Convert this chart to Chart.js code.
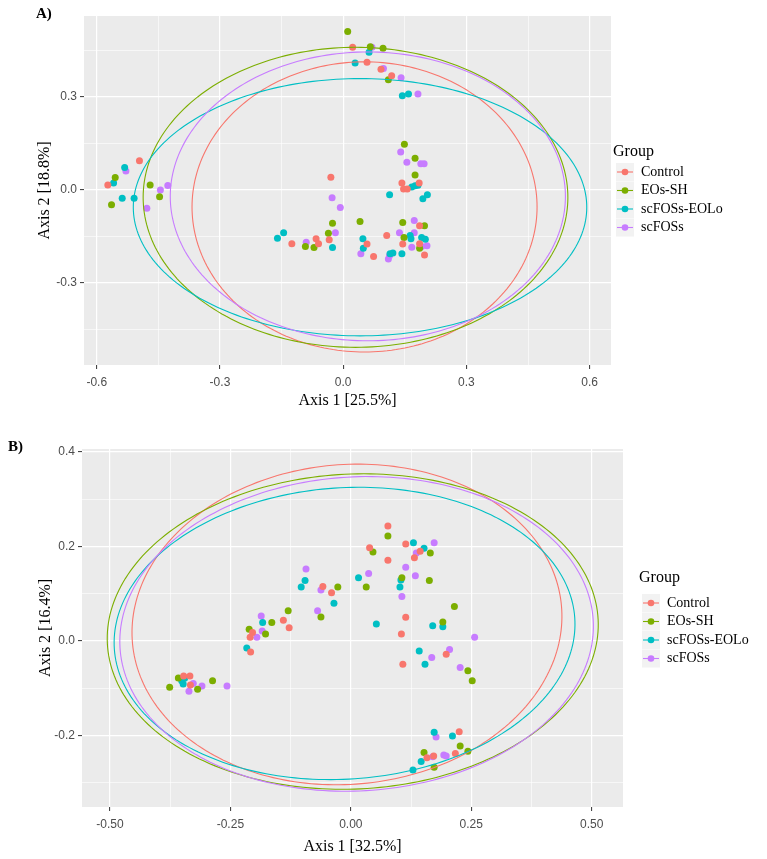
<!DOCTYPE html>
<html>
<head>
<meta charset="utf-8">
<script src="https://cdn.jsdelivr.net/npm/chart.js@4.4.1/dist/chart.umd.min.js"></script>
<style>
  html, body { margin: 0; padding: 0; background: #ffffff; }
  .panel { position: absolute; left: 0; width: 767px; }
  #wrapA { top: 0; height: 420px; }
  #wrapB { top: 420px; height: 439px; }
</style>
</head>
<body>
<div class="panel" id="wrapA"><canvas id="chartA" width="767" height="420"></canvas></div>
<div class="panel" id="wrapB"><canvas id="chartB" width="767" height="439"></canvas></div>
<script>
// ---- data ----
const groups = ['Control', 'EOs-SH', 'scFOSs-EOLo', 'scFOSs'];

// Panel A, points [axis1, axis2]
const a_control = [[-0.573,0.016],[-0.496,0.094],[-0.125,-0.174],[-0.066,-0.158],[-0.060,-0.174],[-0.034,-0.161],[-0.030,0.041],[0.058,-0.175],[0.074,-0.215],[0.106,-0.147],[0.145,-0.175],[0.186,-0.174],[0.198,-0.210],[0.186,-0.116],[0.143,0.022],[0.185,0.022],[0.147,0.003],[0.156,0.003],[0.023,0.460],[0.058,0.412],[0.092,0.389],[0.118,0.368]];
const a_eossh = [[-0.555,0.040],[-0.564,-0.048],[-0.470,0.016],[-0.447,-0.022],[-0.092,-0.183],[-0.071,-0.186],[-0.036,-0.140],[-0.026,-0.108],[0.041,-0.102],[0.145,-0.105],[0.198,-0.116],[0.148,-0.154],[0.186,-0.188],[0.149,0.147],[0.175,0.102],[0.175,0.048],[0.011,0.511],[0.066,0.462],[0.097,0.457],[0.110,0.355]];
const a_eolo = [[-0.559,0.022],[-0.532,0.072],[-0.538,-0.027],[-0.509,-0.027],[-0.160,-0.156],[-0.145,-0.138],[-0.026,-0.186],[0.048,-0.158],[0.049,-0.188],[0.114,-0.206],[0.121,-0.204],[0.143,-0.206],[0.163,-0.147],[0.165,-0.158],[0.191,-0.154],[0.200,-0.159],[0.167,0.009],[0.175,0.013],[0.182,0.015],[0.113,-0.016],[0.194,-0.029],[0.205,-0.016],[0.029,0.409],[0.063,0.444],[0.144,0.304],[0.159,0.309]];
const a_scfos = [[-0.529,0.061],[-0.478,-0.059],[-0.445,0.000],[-0.427,0.014],[-0.090,-0.169],[-0.019,-0.138],[-0.027,-0.025],[-0.007,-0.057],[0.043,-0.206],[0.110,-0.223],[0.113,-0.212],[0.137,-0.138],[0.173,-0.138],[0.167,-0.185],[0.191,-0.183],[0.204,-0.180],[0.173,-0.099],[0.140,0.122],[0.155,0.089],[0.189,0.084],[0.197,0.084],[0.070,0.460],[0.098,0.392],[0.141,0.362],[0.182,0.309]];

// Panel B, points [axis1, axis2]
const b_control = [[-0.347,-0.074],[-0.334,-0.074],[-0.333,-0.093],[-0.204,0.018],[-0.209,0.008],[-0.208,-0.023],[-0.140,0.044],[-0.128,0.028],[-0.058,0.115],[-0.040,0.102],[0.039,0.197],[0.077,0.243],[0.077,0.171],[0.114,0.205],[0.144,0.190],[0.132,0.176],[0.114,0.050],[0.105,0.015],[0.108,-0.049],[0.198,-0.028],[0.225,-0.192],[0.158,-0.247],[0.172,-0.243],[0.217,-0.238]];
const b_eossh = [[-0.376,-0.098],[-0.358,-0.078],[-0.318,-0.102],[-0.287,-0.084],[-0.211,0.025],[-0.164,0.039],[-0.177,0.015],[-0.130,0.064],[-0.062,0.051],[-0.027,0.114],[0.032,0.114],[0.046,0.188],[0.077,0.222],[0.165,0.186],[0.106,0.134],[0.163,0.128],[0.215,0.073],[0.191,0.040],[0.243,-0.063],[0.252,-0.084],[0.227,-0.222],[0.152,-0.236],[0.243,-0.233],[0.173,-0.267]];
const b_eolo = [[-0.351,-0.084],[-0.345,-0.079],[-0.348,-0.091],[-0.216,-0.015],[-0.183,0.039],[-0.095,0.128],[-0.103,0.114],[-0.035,0.080],[0.016,0.134],[0.053,0.036],[0.130,0.208],[0.152,0.196],[0.104,0.129],[0.102,0.114],[0.170,0.032],[0.191,0.030],[0.142,-0.021],[0.154,-0.049],[0.173,-0.193],[0.211,-0.201],[0.146,-0.255],[0.129,-0.273]];
const b_scfos = [[-0.327,-0.090],[-0.336,-0.106],[-0.309,-0.095],[-0.257,-0.095],[-0.186,0.053],[-0.184,0.021],[-0.195,0.008],[-0.093,0.152],[-0.062,0.108],[-0.069,0.064],[0.037,0.143],[0.173,0.208],[0.136,0.186],[0.114,0.156],[0.134,0.138],[0.106,0.094],[0.257,0.008],[0.168,-0.035],[0.205,-0.018],[0.227,-0.056],[0.177,-0.203],[0.170,-0.245],[0.193,-0.241],[0.198,-0.243]];

// confidence ellipses: centre, semi-axes, tilt (rad)
const a_ellCenter = [[0.052,-0.055],[0.030,-0.024],[0.041,-0.056],[0.060,-0.021]];
const a_ellRadius = [[0.420,0.468],[0.517,0.484],[0.552,0.415],[0.481,0.466]];
const a_ellTilt = [0, 0, 0, 0];
const b_ellCenter = [[-0.008,0.035],[0.004,0.020],[-0.013,0.016],[0.012,0.015]];
const b_ellRadius = [[0.447,0.338],[0.510,0.333],[0.479,0.308],[0.492,0.332]];
const b_ellTilt = [0.09, 0.05, 0.07, 0.06];

// ticks
const a_xTicks = [-0.6, -0.3, 0, 0.3, 0.6];
const a_xLabels = ['-0.6', '-0.3', '0.0', '0.3', '0.6'];
const a_yTicks = [-0.3, 0, 0.3];
const a_yLabels = ['-0.3', '0.0', '0.3'];
const b_xTicks = [-0.5, -0.25, 0, 0.25, 0.5];
const b_xLabels = ['-0.50', '-0.25', '0.00', '0.25', '0.50'];
const b_yTicks = [-0.2, 0, 0.2, 0.4];
const b_yLabels = ['-0.2', '0.0', '0.2', '0.4'];

// ---- style ----
const colors = ['#F8766D', '#7CAE00', '#00BFC4', '#C77CFF'];
const serif = "'Liberation Serif', 'DejaVu Serif', serif";
const sans = "'Liberation Sans', Arial, sans-serif";

function findMajor(v, ticks) {
  return ticks.findIndex(t => Math.abs(t - v) < 1e-6);
}

const panelBg = {
  id: 'panelBg',
  beforeDraw(chart) {
    const { ctx, chartArea: a } = chart;
    ctx.save();
    ctx.fillStyle = '#EBEBEB';
    ctx.fillRect(a.left, a.top, a.right - a.left, a.bottom - a.top);
    ctx.restore();
  }
};

const ellipses = {
  id: 'ellipses',
  afterDatasetsDraw(chart, args, opts) {
    const { ctx, chartArea: a, scales: { x, y } } = chart;
    ctx.save();
    ctx.beginPath();
    ctx.rect(a.left, a.top, a.right - a.left, a.bottom - a.top);
    ctx.clip();
    opts.center.forEach((c, i) => {
      const [rx, ry] = opts.radius[i];
      const th = opts.tilt[i];
      ctx.beginPath();
      for (let k = 0; k <= 240; k++) {
        const t = k / 240 * Math.PI * 2;
        const dx = rx * Math.cos(t), dy = ry * Math.sin(t);
        const px = x.getPixelForValue(c[0] + dx * Math.cos(th) - dy * Math.sin(th));
        const py = y.getPixelForValue(c[1] + dx * Math.sin(th) + dy * Math.cos(th));
        if (k === 0) ctx.moveTo(px, py); else ctx.lineTo(px, py);
      }
      ctx.strokeStyle = colors[i];
      ctx.lineWidth = 1.1;
      ctx.stroke();
    });
    ctx.restore();
  }
};

const annotations = {
  id: 'annotations',
  afterDraw(chart, args, opts) {
    const ctx = chart.ctx;
    ctx.save();
    ctx.fillStyle = '#000';
    ctx.textBaseline = 'middle';
    ctx.font = 'bold 15px ' + serif;
    ctx.fillText(opts.tag, opts.tagX, opts.tagY);
    // legend
    ctx.font = '16px ' + serif;
    ctx.fillText('Group', opts.legX, opts.legY);
    groups.forEach((g, i) => {
      const cy = opts.legY + opts.firstGap + i * opts.step;
      const kx = opts.legX + 3;
      ctx.fillStyle = '#F2F2F2';
      ctx.fillRect(kx, cy - 9, 18, 18);
      ctx.strokeStyle = colors[i];
      ctx.lineWidth = 1.1;
      ctx.beginPath();
      ctx.moveTo(kx + 1, cy);
      ctx.lineTo(kx + 17, cy);
      ctx.stroke();
      ctx.fillStyle = colors[i];
      ctx.beginPath();
      ctx.arc(kx + 9, cy, 3.3, 0, Math.PI * 2);
      ctx.fill();
      ctx.fillStyle = '#000';
      ctx.font = '14px ' + serif;
      ctx.fillText(g, kx + 25, cy);
    });
    ctx.restore();
  }
};

function axis(min, max, step, ticks, labels, title, titlePad, fixSize, horizontal) {
  return {
    type: 'linear',
    min: min,
    max: max,
    border: { display: false },
    afterFit(scale) {
      if (horizontal) scale.height = fixSize; else scale.width = fixSize;
    },
    grid: {
      color: '#FFFFFF',
      lineWidth: c => findMajor(c.tick.value, ticks) >= 0 ? 1.2 : 0.6,
      tickColor: c => findMajor(c.tick.value, ticks) >= 0 ? '#333333' : 'rgba(0,0,0,0)',
      tickWidth: 1,
      tickLength: 4
    },
    ticks: {
      stepSize: step,
      includeBounds: false,
      autoSkip: false,
      maxRotation: 0,
      padding: horizontal ? 6 : 3,
      color: '#4D4D4D',
      font: { family: sans, size: 12 },
      callback: v => {
        const i = findMajor(v, ticks);
        return i >= 0 ? labels[i] : '';
      }
    },
    title: {
      display: true,
      text: title,
      color: '#000000',
      font: { family: serif, size: 16 },
      padding: titlePad
    }
  };
}

function makeDatasets(sets) {
  return sets.map((pts, i) => ({
    label: groups[i],
    data: pts.map(p => ({ x: p[0], y: p[1] })),
    backgroundColor: colors[i],
    borderWidth: 0,
    pointRadius: 3.5,
    pointHoverRadius: 3.5
  }));
}

function makeChart(id, cfg) {
  return new Chart(document.getElementById(id), {
    type: 'scatter',
    data: { datasets: makeDatasets(cfg.sets) },
    options: {
      responsive: false,
      animation: false,
      events: [],
      layout: { padding: { left: 0, top: cfg.top, right: 767 - cfg.right, bottom: 0 } },
      scales: {
        x: axis(cfg.xMin, cfg.xMax, cfg.xStep, cfg.xTicks, cfg.xLabels, cfg.xTitle,
                { top: 0, bottom: cfg.xTitlePad }, cfg.height - cfg.bottom, true),
        y: axis(cfg.yMin, cfg.yMax, cfg.yStep, cfg.yTicks, cfg.yLabels, cfg.yTitle,
                { top: cfg.yTitlePad, bottom: 0 }, cfg.left, false)
      },
      plugins: {
        legend: { display: false },
        tooltip: { enabled: false },
        ellipses: cfg.ell,
        annotations: cfg.notes
      }
    },
    plugins: [panelBg, ellipses, annotations]
  });
}

makeChart('chartA', {
  sets: [a_control, a_eossh, a_eolo, a_scfos],
  left: 84, right: 611, top: 16, bottom: 365, height: 420,
  xMin: -0.631, xMax: 0.652, xStep: 0.15, xTicks: a_xTicks, xLabels: a_xLabels,
  yMin: -0.565, yMax: 0.561, yStep: 0.15, yTicks: a_yTicks, yLabels: a_yLabels,
  xTitle: 'Axis 1 [25.5%]', yTitle: 'Axis 2 [18.8%]', xTitlePad: 10, yTitlePad: 35,
  ell: { center: a_ellCenter, radius: a_ellRadius, tilt: a_ellTilt },
  notes: { tag: 'A)', tagX: 36, tagY: 14, legX: 613, legY: 152, firstGap: 20, step: 18.5 }
});

makeChart('chartB', {
  sets: [b_control, b_eossh, b_eolo, b_scfos],
  left: 82, right: 623, top: 29, bottom: 387, height: 439,
  xMin: -0.558, xMax: 0.565, xStep: 0.125, xTicks: b_xTicks, xLabels: b_xLabels,
  yMin: -0.351, yMax: 0.406, yStep: 0.1, yTicks: b_yTicks, yLabels: b_yLabels,
  xTitle: 'Axis 1 [32.5%]', yTitle: 'Axis 2 [16.4%]', xTitlePad: 3, yTitlePad: 36,
  ell: { center: b_ellCenter, radius: b_ellRadius, tilt: b_ellTilt },
  notes: { tag: 'B)', tagX: 8, tagY: 27, legX: 639, legY: 158, firstGap: 25, step: 18.5 }
});
</script>
</body>
</html>
